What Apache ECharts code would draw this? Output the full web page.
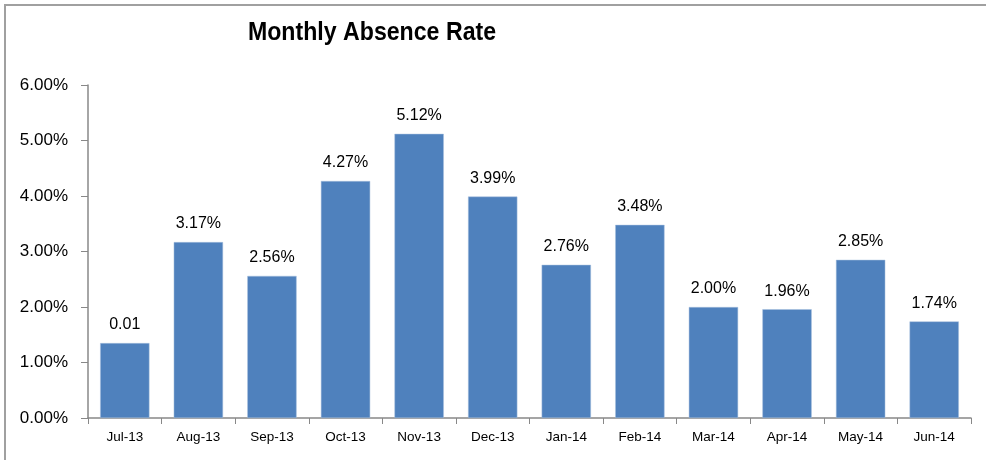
<!DOCTYPE html>
<html><head><meta charset="utf-8">
<script src="https://cdn.jsdelivr.net/npm/echarts@6/dist/echarts.min.js"></script>
<style>html,body{margin:0;padding:0;background:#fff}#c{width:986px;height:460px}</style>
</head><body><div id="c"></div>
<script>
const categories = ["Jul-13","Aug-13","Sep-13","Oct-13","Nov-13","Dec-13","Jan-14","Feb-14","Mar-14","Apr-14","May-14","Jun-14"];
const values = [1.35,3.17,2.56,4.27,5.12,3.99,2.76,3.48,2.00,1.96,2.85,1.74];
const valueLabels = ["0.01","3.17%","2.56%","4.27%","5.12%","3.99%","2.76%","3.48%","2.00%","1.96%","2.85%","1.74%"];
const titleText = 'Monthly Absence Rate';
const chart = echarts.init(document.getElementById('c'));
chart.setOption({
  animation:false,
  backgroundColor:'#fff',
  graphic:[
    {type:'polyline',shape:{points:[[5,460],[5,5],[986,5]]},style:{stroke:'#a0a0a0',lineWidth:2,fill:null}},
    {type:'text',x:372,y:33,scaleX:0.89,scaleY:1,
      style:{text:titleText,fontFamily:'Liberation Sans, Arial',fontWeight:'bold',fontSize:26,fill:'#000',
        textAlign:'center',textVerticalAlign:'middle'}}
  ],
  grid:{left:88,right:15,top:85,bottom:42},
  xAxis:{type:'category',data:categories,
    axisLine:{lineStyle:{color:'#888',width:1.5}},
    axisTick:{show:true,length:6,lineStyle:{color:'#888'}},
    axisLabel:{color:'#000',fontSize:13.5,margin:12,fontFamily:'Liberation Sans, Arial'}},
  yAxis:{type:'value',min:0,max:6,interval:1,
    axisLine:{show:true,lineStyle:{color:'#888',width:1.5}},
    axisTick:{show:true,length:7,lineStyle:{color:'#888'}},
    splitLine:{show:false},
    axisLabel:{color:'#000',fontSize:17,margin:20,padding:[4,0,0,0],fontFamily:'Liberation Sans, Arial',formatter:v=>v.toFixed(2)+'%'}},
  series:[{type:'bar',data:values,barWidth:'67%',
    itemStyle:{color:'#4F81BD',borderColor:'#a9c0de',borderWidth:0.5},
    label:{show:true,position:'top',distance:10,color:'#000',fontSize:16,fontFamily:'Liberation Sans, Arial',
      formatter:p=>valueLabels[p.dataIndex]}}]
});
</script></body></html>
